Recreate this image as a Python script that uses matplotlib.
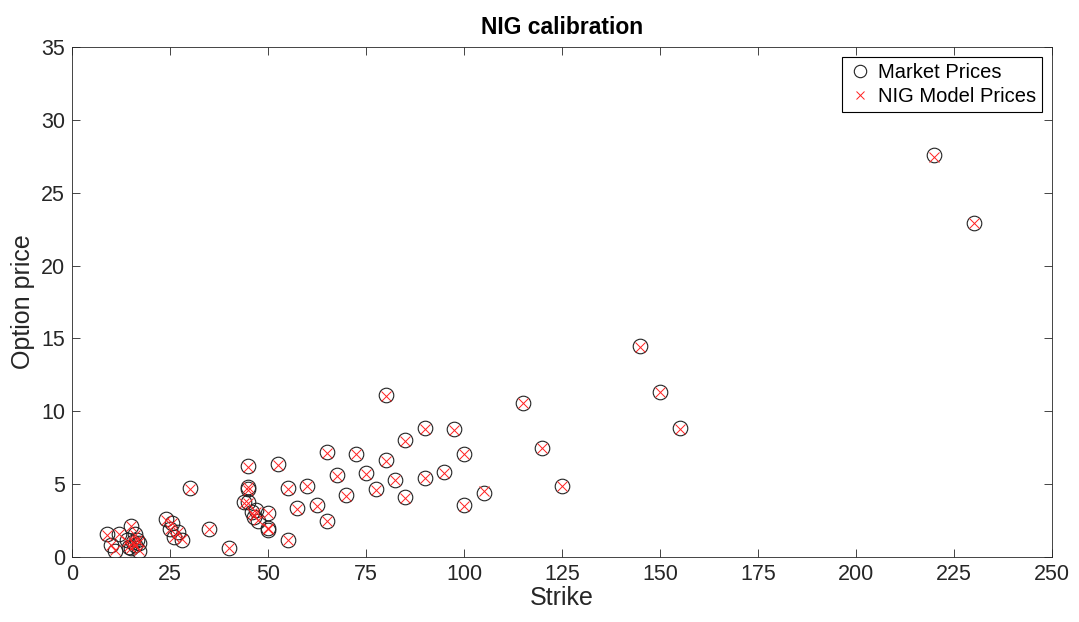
import matplotlib.pyplot as plt

plt.rcParams['font.family'] = ['Liberation Sans', 'DejaVu Sans']

# Strikes and prices
strike = [9, 10, 11, 12, 14, 14.5, 15, 15, 15.5, 16, 16, 16.5, 17, 17,
          24, 25, 25.5, 26, 27, 28, 30, 35, 40, 44, 45, 45, 45, 45,
          46, 46.5, 47, 47.5, 50, 50, 50, 52.5, 55, 55, 57.5, 60, 62.5,
          65, 65, 67.5, 70, 72.5, 75, 77.5, 80, 80, 82.5, 85, 85, 90, 90,
          95, 97.5, 100, 100, 105, 115, 120, 125, 145, 150, 155, 220, 230]
market = [1.55, 0.85, 0.4, 1.6, 1.15, 0.7, 2.15, 0.6, 1.0, 1.55, 0.8, 1.2, 0.95, 0.4,
          2.6, 1.9, 2.3, 1.4, 1.7, 1.2, 4.75, 1.9, 0.6, 3.75, 3.75, 6.25, 4.8, 4.65,
          3.1, 2.75, 3.2, 2.5, 3.05, 2.0, 1.85, 6.35, 4.75, 1.15, 3.35, 4.9, 3.55,
          7.2, 2.45, 5.6, 4.25, 7.1, 5.75, 4.65, 11.1, 6.65, 5.3, 8.0, 4.1, 8.85, 5.45,
          5.8, 8.75, 7.1, 3.55, 4.4, 10.6, 7.5, 4.9, 14.45, 11.35, 8.85, 27.6, 22.95]
model = [1.5, 0.85, 0.45, 1.6, 1.1, 0.75, 2.1, 0.65, 1.05, 1.5, 0.85, 1.2, 1.0, 0.45,
         2.55, 1.9, 2.3, 1.35, 1.7, 1.25, 4.7, 1.9, 0.6, 3.7, 3.7, 6.2, 4.8, 4.6,
         3.0, 2.8, 3.1, 2.55, 3.0, 2.0, 1.9, 6.3, 4.7, 1.2, 3.3, 4.85, 3.5,
         7.15, 2.5, 5.55, 4.2, 7.05, 5.7, 4.6, 11.05, 6.6, 5.25, 7.95, 4.05, 8.8, 5.4,
         5.75, 8.7, 7.05, 3.5, 4.5, 10.55, 7.45, 4.85, 14.4, 11.3, 8.8, 27.45, 22.9]

fig = plt.figure(figsize=(10.79, 6.22), dpi=100)
ax = fig.add_axes([0.0667, 0.1045, 0.9083, 0.82])

ax.plot(strike, market, 'o', markersize=10.5, markerfacecolor='none',
        markeredgecolor='#222222', markeredgewidth=0.8, label='Market Prices')
ax.plot(strike, model, 'x', markersize=7, color='#ff2020', markeredgewidth=0.7,
        label='NIG Model Prices')

ax.set_xlim(0, 250)
ax.set_ylim(0, 35)
ax.set_xticks(range(0, 251, 25))
ax.set_yticks(range(0, 36, 5))
ax.tick_params(direction='in', top=True, right=True, labelsize=15.5,
               length=6, width=0.6, colors='#262626', labelcolor='#262626', pad=5)
for s in ax.spines.values():
    s.set_color('#262626')
    s.set_linewidth(0.6)

ax.set_xlabel('Strike', fontsize=18, color='#262626', labelpad=1)
ax.set_ylabel('Option price', fontsize=18, color='#262626', labelpad=4)
ax.set_title('NIG calibration', fontsize=16.5, fontweight='bold', pad=9)

leg = ax.legend(loc='upper right', fontsize=14.5, fancybox=False,
                edgecolor='black', framealpha=1, handletextpad=0.3,
                borderaxespad=0.5, handlelength=1.2, markerscale=0.85,
                borderpad=0.3, labelspacing=0.25)
leg.get_frame().set_linewidth(0.8)

fig.savefig('out.png')
